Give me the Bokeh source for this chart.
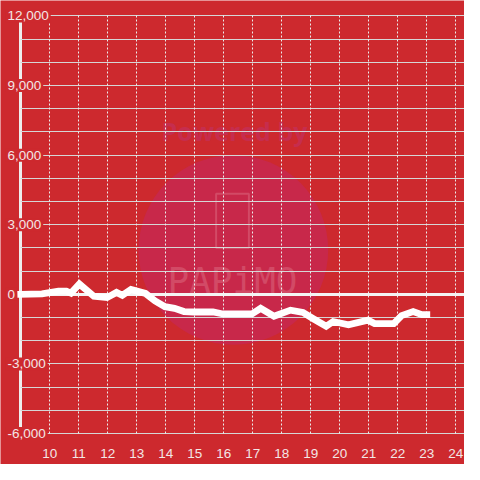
from bokeh.plotting import figure
from bokeh.models import Grid, LinearAxis, FixedTicker, SingleIntervalTicker
from bokeh.core.properties import value
from bokeh.embed import file_html
from bokeh.resources import INLINE

# ---- data ----
HOURS = [9.0, 9.73, 10.3, 10.57, 10.73, 11.02, 11.52, 11.97, 12.3, 12.5, 12.8,
         13.3, 13.63, 13.97, 14.3, 14.63, 14.97, 15.63, 15.97, 16.97, 17.27,
         17.73, 18.3, 18.73, 19.07, 19.53, 19.77, 20.3, 20.97, 21.2, 21.86,
         22.13, 22.53, 22.83, 23.0]
VALUES = [0, 20, 140, 140, 55, 445, -85, -140, 85, -40, 210,
          40, -280, -530, -600, -740, -760, -760, -845, -845, -600,
          -940, -680, -780, -1040, -1375, -1170, -1310, -1110, -1260, -1260,
          -915, -740, -875, -875]

X_TICKS = list(range(10, 25))
Y_TICKS = [-6000, -3000, 0, 3000, 6000, 9000, 12000]
Y_LABELS = ["-6,000", "-3,000", "0", "3,000", "6,000", "9,000", "12,000"]

RED = "#cd292e"
FONT = "Liberation Sans"

p = figure(width=464, height=464, x_range=(8.3, 24.3), y_range=(-7333.3, 12666.7),
           x_axis_type=None, y_axis_type=None, toolbar_location=None,
           output_backend="svg", min_border=0,
           background_fill_color=RED, border_fill_color=RED, outline_line_color=None)

# watermark
p.circle(x=[16.33], y=[1917], radius=3.27, fill_color="#c8284a", line_color=None, level="image")
p.text(x=[16.37], y=[7042], text=["Powered by"], text_align="center", text_baseline="middle",
       text_font=value("Open Sans"), text_font_style="bold", text_font_size="25px",
       text_color="#c62d4e", level="image")
p.rect(x=[16.3], y=[3167], width=1.13, height=2333, fill_color=None,
       line_color="#d24a66", line_width=2, level="image")
p.text(x=[16.3], y=[583], text=["PAPiMO"], text_align="center", text_baseline="middle",
       text_font=value("DejaVu Sans Mono"), text_font_size="36px",
       text_color="#d24a66", level="image")

# grids
p.add_layout(Grid(dimension=1, ticker=SingleIntervalTicker(interval=1000),
                  bounds=(-6000, 12000), cross_bounds=(9, 24.3),
                  grid_line_color="#d6d6d6", grid_line_width=1))
p.add_layout(Grid(dimension=0, ticker=FixedTicker(ticks=X_TICKS),
                  cross_bounds=(-6000, 12000),
                  grid_line_color="#ececec", grid_line_width=1, grid_line_dash="2 2"))
p.add_layout(Grid(dimension=1, ticker=FixedTicker(ticks=[0]), cross_bounds=(9, 24.3),
                  grid_line_color="#f4f4f4", grid_line_width=3))

# y axis line
yline = LinearAxis(fixed_location=9, bounds=(-6000, 12000), ticker=FixedTicker(ticks=[]),
                   axis_line_color="#eeeeee", axis_line_width=3,
                   major_tick_line_color=None, minor_tick_line_color=None,
                   major_label_text_font_size="0px", level="underlay")
p.add_layout(yline, "left")

# x axis labels
xaxis = LinearAxis(fixed_location=-6000, ticker=FixedTicker(ticks=X_TICKS),
                   axis_line_color=None, major_tick_line_color=None, minor_tick_line_color=None,
                   major_label_text_font=FONT, major_label_text_font_size="13.5px",
                   major_label_text_color="#f3e6e6", major_label_standoff=9)
p.add_layout(xaxis, "below")

# y tick labels (with background, masking grid as in the reference)
p.text(x=8.47, y=Y_TICKS, text=Y_LABELS, text_align="left", text_baseline="middle",
       text_font=value(FONT), text_font_size="13.5px", text_color="#f3e6e6",
       background_fill_color=RED, padding=2)

# data line
p.line(HOURS, VALUES, line_color="white", line_width=6.8, line_join="miter", line_cap="square")

open("out.html", "w").write(file_html(p, INLINE))
